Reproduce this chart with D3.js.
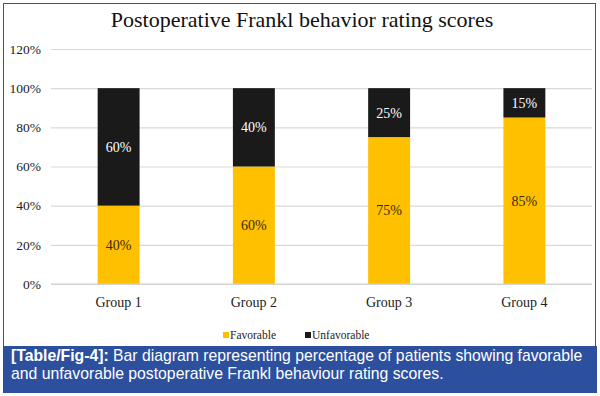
<!DOCTYPE html>
<html>
<head>
<meta charset="utf-8">
<script src="https://cdn.jsdelivr.net/npm/d3@7"></script>
<style>
  body { margin: 0; background: #fff; }
  svg { display: block; }
</style>
</head>
<body>
<svg id="chart" width="600" height="396"></svg>
<script>
const groups = ["Group 1", "Group 2", "Group 3", "Group 4"];
const favorable = [40, 60, 75, 85];
const unfavorable = [60, 40, 25, 15];
const yTicks = [0, 20, 40, 60, 80, 100, 120];
const seriesNames = ["Favorable", "Unfavorable"];
const seriesColors = ["#ffc000", "#1a1a1a"];
const title = "Postoperative Frankl behavior rating scores";

var svg = d3.select("#chart");
var serif = "'Liberation Serif', 'Times New Roman', serif";

// frame
svg.append("rect")
    .attr("x", 3.5).attr("y", 3.5)
    .attr("width", 592).attr("height", 388)
    .attr("fill", "#fff")
    .attr("stroke", "#3b5670")
    .attr("stroke-width", 1);

var x = d3.scaleBand()
    .domain(groups)
    .range([51, 592])
    .paddingInner(0.69)
    .paddingOuter(0.345);

var y = d3.scaleLinear()
    .domain([0, 120])
    .range([284, 49]);

// gridlines + y labels
var yAxis = d3.axisLeft(y)
    .tickValues(yTicks)
    .tickSize(-(592 - 51))
    .tickPadding(10)
    .tickFormat(d => d + "%");
var gy = svg.append("g")
    .attr("transform", "translate(51,0)")
    .call(yAxis);
gy.select(".domain").remove();
gy.selectAll(".tick line").attr("stroke", "#d9d9d9").attr("stroke-width", 1.2);
gy.selectAll(".tick text")
    .attr("fill", "#222")
    .attr("font-family", serif)
    .attr("font-size", 13.5);

// stacked bars
var rows = groups.map((g, i) => ({ group: g, Favorable: favorable[i], Unfavorable: unfavorable[i] }));
var stack = d3.stack().keys(seriesNames)(rows);

stack.forEach(function(layer, li) {
    var g = svg.append("g");
    g.selectAll("rect")
        .data(layer)
        .join("rect")
        .attr("x", d => x(d.data.group))
        .attr("y", d => y(d[1]))
        .attr("width", x.bandwidth())
        .attr("height", d => y(d[0]) - y(d[1]))
        .attr("fill", seriesColors[li]);
    g.selectAll("text")
        .data(layer)
        .join("text")
        .attr("x", d => x(d.data.group) + x.bandwidth() / 2)
        .attr("y", d => (y(d[0]) + y(d[1])) / 2)
        .attr("dy", "0.35em")
        .attr("text-anchor", "middle")
        .attr("font-family", serif)
        .attr("font-size", 14)
        .attr("fill", li == 0 ? "#3a2a00" : "#fff")
        .text(d => (d[1] - d[0]) + "%");
});

// baseline
svg.append("line")
    .attr("x1", 51).attr("x2", 592)
    .attr("y1", y(0)).attr("y2", y(0))
    .attr("stroke", "#d0d0d0").attr("stroke-width", 1.2);

// x labels
svg.append("g").selectAll("text")
    .data(groups)
    .join("text")
    .attr("x", d => x(d) + x.bandwidth() / 2)
    .attr("y", 307)
    .attr("text-anchor", "middle")
    .attr("font-family", serif)
    .attr("font-size", 14)
    .attr("fill", "#222")
    .text(d => d);

// title
svg.append("text")
    .attr("x", 302)
    .attr("y", 27)
    .attr("text-anchor", "middle")
    .attr("font-family", serif)
    .attr("font-size", 22)
    .attr("fill", "#111")
    .text(title);

// legend
var legendX = [223, 305];
var lg = svg.append("g");
seriesNames.forEach(function(name, i) {
    lg.append("rect")
        .attr("x", legendX[i]).attr("y", 332)
        .attr("width", 6).attr("height", 6)
        .attr("fill", seriesColors[i]);
    lg.append("text")
        .attr("x", legendX[i] + 7)
        .attr("y", 339)
        .attr("font-family", serif)
        .attr("font-size", 11.5)
        .attr("fill", "#222")
        .text(name);
});

// caption band
svg.append("rect")
    .attr("x", 3).attr("y", 346)
    .attr("width", 594).attr("height", 47)
    .attr("fill", "#2c4f9e");

var cap = svg.append("g")
    .attr("font-family", "'Liberation Sans', Arial, sans-serif")
    .attr("font-size", 15.75)
    .attr("fill", "#fff");
var l1 = cap.append("text").attr("x", 11).attr("y", 361);
l1.append("tspan").attr("font-weight", "bold").text("[Table/Fig-4]:");
l1.append("tspan").text(" Bar diagram representing percentage of patients showing favorable");
cap.append("text").attr("x", 11).attr("y", 379)
    .text("and unfavorable postoperative Frankl behaviour rating scores.");
</script>
</body>
</html>
